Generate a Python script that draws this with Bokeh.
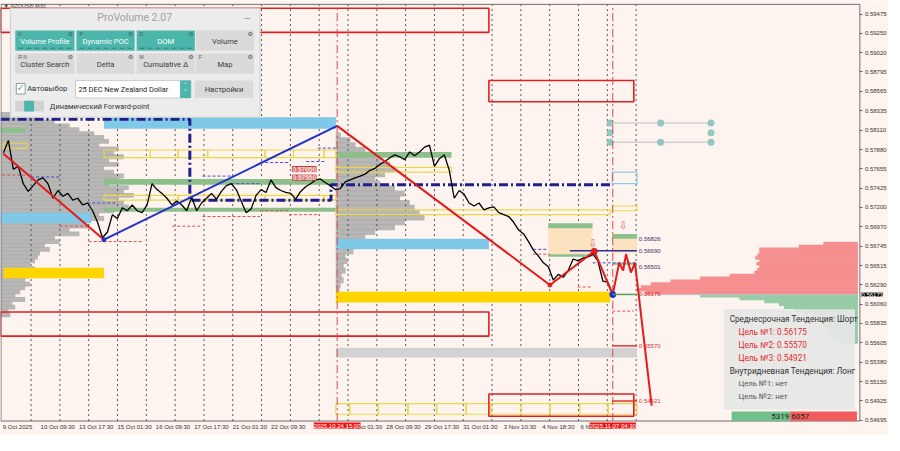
import numpy as np
from bokeh.plotting import figure
from bokeh.models import Range1d, FixedTicker, Label, PrintfTickFormatter, CustomJSTickFormatter
from bokeh.embed import file_html
from bokeh.resources import INLINE
from bokeh.core.properties import value

# ---------------- chart data ----------------
symbol = "NZDUSD,M30"
instrument = "25 DEC New Zealand Dollar"
closes = [
    0.57841, 0.57988, 0.57648, 0.57682, 0.57478, 0.57387, 0.57455, 0.57523, 0.57546, 0.57478,
    0.57307, 0.57398, 0.57330, 0.57364, 0.57285, 0.57307, 0.57228, 0.57251, 0.57160, 0.57024,
    0.56842, 0.56910, 0.57114, 0.57069, 0.57194, 0.57160, 0.57228, 0.57160, 0.57137, 0.57228,
    0.57478, 0.57409, 0.57364, 0.57307, 0.57228, 0.57273, 0.57228, 0.57160, 0.57319, 0.57160,
    0.57251, 0.57307, 0.57364, 0.57296, 0.57387, 0.57455, 0.57478, 0.57409, 0.57273, 0.57137,
    0.57182, 0.57341, 0.57409, 0.57375, 0.57523, 0.57432, 0.57398, 0.57375, 0.57364, 0.57296,
    0.57387, 0.57443, 0.57478, 0.57523, 0.57534, 0.57489, 0.57455, 0.57409, 0.57421, 0.57500,
    0.57523, 0.57546, 0.57568, 0.57591, 0.57636, 0.57659, 0.57705, 0.57739, 0.57784, 0.57818,
    0.57795, 0.57761, 0.57852, 0.57807, 0.57852, 0.57909, 0.57932, 0.57682, 0.57773, 0.57818,
    0.57636, 0.57307, 0.57398, 0.57353, 0.57251, 0.57216, 0.57251, 0.57171, 0.57194, 0.57205,
    0.57137, 0.57114, 0.57092, 0.57024, 0.56933, 0.56887, 0.56797, 0.56694, 0.56626, 0.56547,
    0.56501, 0.56343, 0.56411, 0.56377, 0.56456, 0.56592, 0.56570, 0.56604, 0.56615, 0.56649,
    0.56570, 0.56331, 0.56320, 0.56173]
first_bar_day, last_bar_day = 0.04, 21.19      # trading days since 9 Oct 2025 00:00
current_price = 0.56173

zz_days = [0.04, 3.53, 11.625, 19.01, 20.55, 21.19]
zz_prices = [0.57830, 0.56819, 0.58159, 0.56286, 0.56683, 0.56173]
zz_colors = ["#E41B1B", "#1F2FD0", "#E41B1B", "#E41B1B", "#E41B1B"]
fc_days = [21.19, 21.41, 21.55, 21.65, 21.82, 21.96, 22.54]
fc_prices = [0.56173, 0.56547, 0.56456, 0.56649, 0.56433, 0.56547, 0.54867]

price_ticks = [0.59475, 0.59250, 0.59020, 0.58795, 0.58565, 0.58335, 0.58110, 0.57880,
               0.57655, 0.57425, 0.57200, 0.56970, 0.56745, 0.56515, 0.56290, 0.56060,
               0.55835, 0.55605, 0.55380, 0.55150, 0.54925, 0.54695]
time_ticks = [0.0, 1.396, 2.729, 4.0625, 5.396, 6.729, 8.0625, 9.396, 12.0625, 13.396,
              14.729, 16.0625, 17.4375, 18.771, 20.104]
time_labels = ["9 Oct 2025", "10 Oct 09:30", "13 Oct 17:30", "15 Oct 01:30", "16 Oct 09:30",
               "17 Oct 17:30", "21 Oct 01:30", "22 Oct 09:30", "27 Oct 01:30", "28 Oct 09:30",
               "29 Oct 17:30", "31 Oct 01:30", "3 Nov 10:30", "4 Nov 18:30", "6 Nov 02:30"]
marker_days = [11.625, 21.19]
marker_labels = ["2025.10.24 15:00", "2025.11.07 04:30"]
day_lines = list(range(1, 23))

# zones: left day, right day, top price, bottom price
sky_x0 = [3.53, -0.06, 11.58]
sky_x1 = [11.58, 3.09, 16.89]
sky_top = [0.58261, 0.57137, 0.56831]
sky_bot = [0.58124, 0.57012, 0.56706]
gold_x0 = [0.04, 11.58]
gold_x1 = [3.53, 21.10]
gold_top = [0.56490, 0.56206]
gold_bot = [0.56365, 0.56081]
gray_x0, gray_x1, gray_top, gray_bot = [11.58], [22.03], [0.55548], [0.55434]
green_x0 = [3.53, 3.53, 11.58, 18.95, 18.95, 21.17, 21.17, -0.06]
green_x1 = [11.58, 11.58, 15.59, 20.49, 20.49, 22.03, 22.03, 0.80]
green_top = [0.57534, 0.57194, 0.57852, 0.57012, 0.56649, 0.56887, 0.56547, 0.58136]
green_bot = [0.57466, 0.57148, 0.57784, 0.56955, 0.56620, 0.56831, 0.56524, 0.58079]
beige_x0, beige_x1 = [18.95, 21.17], [20.49, 22.03]
beige_top, beige_bot = [0.56955, 0.56831], [0.56649, 0.56660]
red_x0 = [-0.06, 16.89, -0.06, 16.89]
red_x1 = [16.89, 21.92, 16.89, 21.92]
red_top = [0.59543, 0.58692, 0.55968, 0.55003]
red_bot = [0.59259, 0.58442, 0.55684, 0.54742]
yel_row_edges = [3.53, 5.14, 6.10, 7.13, 9.12, 10.11, 11.17, 11.58]
yel_rows = [(0.57875, 0.57784), (0.57341, 0.57285)]
yel_low_edges = [11.58, 12.06, 13.05, 14.08, 15.08, 16.10, 16.96, 18.02, 19.01, 20.04, 21.03, 22.03]
yel_low = (0.54890, 0.54765)
yel_x0 = [0.04, 11.58, 11.58, 21.17]
yel_x1 = [0.86, 15.59, 21.10, 22.03]
yel_top = [0.57954, 0.57670, 0.57171, 0.57216]
yel_bot = [0.57897, 0.57614, 0.57114, 0.57160]
poc_days = [-0.06, 6.51, 6.51, 11.41, 11.41, 21.10]
poc_prices = [0.58238, 0.58238, 0.57284, 0.57284, 0.57466, 0.57466]
red_dash = [(0.0, 0.9, 0.57580), (2.0, 3.0, 0.56978), (3.0, 4.9, 0.56797), (5.9, 6.9, 0.56978),
            (6.95, 8.95, 0.57092), (8.95, 9.95, 0.57160), (9.95, 11.0, 0.57114),
            (18.43, 19.0, 0.56649), (19.97, 20.49, 0.56263), (21.17, 21.92, 0.55979)]
blue_dash = [(1.0, 2.0, 0.57557), (2.95, 3.95, 0.57251), (6.95, 7.95, 0.57568), (7.95, 8.95, 0.57478),
             (8.95, 9.95, 0.57727), (10.55, 11.24, 0.57739), (10.95, 11.6, 0.57897),
             (18.43, 18.9, 0.56706), (20.49, 22.03, 0.56547)]
fp_days = [21.10, 22.85, 24.60]
fp_prices = [0.58192, 0.58079, 0.57966]
level_labels = [0.56826, 0.56690, 0.56501]
targets_mid = [0.56175, 0.55570, 0.54921]
box_labels = [0.57650, 0.57550]
arrow_days, arrow_prices = [20.50, 21.55], [0.56774, 0.56989]

left_prof_vol = [20, 40, 55, 70, 80, 95, 105, 110, 100, 120, 115, 125, 110, 120, 105, 115, 125, 120,
                 110, 130, 125, 135, 120, 125, 130, 115, 100, 105, 85, 90, 70, 80, 55, 60, 45, 50,
                 40, 38, 35, 30, 35, 30, 28, 25, 30, 25, 20, 15, 25, 12, 15, 8, 10]
left_prof_range = (0.58295, 0.55934)
mid_prof_vol = [5, 15, 20, 30, 35, 45, 55, 60, 50, 40, 45, 60, 70, 65, 75, 80, 85, 90, 70, 60, 40,
                30, 20, 15, 18, 10, 12, 8, 10, 6, 8, 5, 4]
mid_prof_range = (0.58045, 0.56229)
right_prof_vol = [35, 60, 100, 100, 102, 104, 100, 103, 100, 102, 105, 130, 160, 190, 210, 220, 224,
                  215, 160, 120, 95, 80, 75, 65, 55, 45, 40, 38, 35, 33, 32, 30, 28, 25, 20]
right_prof_range = (0.56774, 0.55616)
buy_volume, sell_volume = 5319, 6057

# ---------------- helpers (reference pixel -> data, for decorations) ----------------
def X(px):
    return (px - 1.8) / 29.2

def Y(py):
    return 0.59634 - py * 0.0001135

BG = "#FDF4EF"
W, H = 888, 435
# the frame spans the whole canvas; axes are pinned inside it with fixed_location
p = figure(width=W, height=H, x_range=Range1d(X(0), X(900)), y_range=Range1d(Y(451), Y(0)),
           output_backend="svg", toolbar_location=None, y_axis_location="right",
           background_fill_color=BG, border_fill_color=BG,
           min_border_left=0, min_border_top=0, min_border_right=0, min_border_bottom=0)
p.xgrid.visible = False
p.ygrid.visible = False
p.outline_line_color = None

x_frame_end = X(871)
y_frame_bot, y_frame_top = Y(436), Y(4)

ya = p.yaxis[0]
ya.fixed_location = x_frame_end
ya.ticker = FixedTicker(ticks=price_ticks)
ya.formatter = PrintfTickFormatter(format="%.5f")
ya.major_label_text_font = "Liberation Sans"
ya.major_label_text_font_size = "6px"
ya.major_label_text_color = "#333333"
ya.axis_line_color = None
ya.major_tick_line_color = "#666666"
ya.major_tick_out = 3
ya.major_tick_in = 0
ya.minor_tick_out = 0
ya.minor_tick_in = 0
ya.major_label_standoff = 2

xa = p.xaxis[0]
xa.fixed_location = y_frame_bot
label_center_shift = 0.53
xa.ticker = FixedTicker(ticks=[round(t + label_center_shift, 4) for t in time_ticks])
xa.formatter = CustomJSTickFormatter(args=dict(labels=time_labels), code="return labels[index] || '';")
xa.major_label_text_font = "Liberation Sans"
xa.major_label_text_font_size = "6px"
xa.major_label_text_color = "#333333"
xa.axis_line_color = None
xa.major_tick_out = 0
xa.major_tick_in = 0
xa.minor_tick_out = 0
xa.minor_tick_in = 0
xa.major_label_standoff = 3

# ---------------- volume profiles ----------------
lv = np.linspace(left_prof_range[0], left_prof_range[1], len(left_prof_vol))
lh = abs(lv[1] - lv[0]) * 1.25
x_left = X(0)
p.hbar(y=lv, left=x_left, right=[x_left + v / 29.2 for v in left_prof_vol], height=lh,
       fill_color="#ABABAB", line_color=None, fill_alpha=0.85)
mv = np.linspace(mid_prof_range[0], mid_prof_range[1], len(mid_prof_vol))
mh = abs(mv[1] - mv[0]) * 1.25
p.hbar(y=mv, left=marker_days[0] - 0.05, right=[marker_days[0] - 0.05 + v / 29.2 for v in mid_prof_vol],
       height=mh, fill_color="#ABABAB", line_color=None, fill_alpha=0.85)
rv = np.linspace(right_prof_range[0], right_prof_range[1], len(right_prof_vol))
rh = abs(rv[1] - rv[0]) * 1.2
x_right = X(869)
rcol = ["#F58A8A" if lvl > current_price else "#92C9A3" for lvl in rv]
p.hbar(y=rv, right=x_right, left=[x_right - v / 29.2 for v in right_prof_vol], height=rh,
       fill_color=rcol, line_color=None, fill_alpha=0.95)
p.segment(x0=[X(645)], x1=[x_right], y0=[current_price], y1=[current_price], color="#C0C0C0", line_width=1)

# ---------------- day separators ----------------
p.segment(x0=day_lines, x1=day_lines, y0=y_frame_bot, y1=y_frame_top, color="#555555", line_width=1,
          line_dash="2 3")

# ---------------- zones ----------------
p.quad(left=sky_x0, right=sky_x1, top=sky_top, bottom=sky_bot, fill_color="#80C8E8", line_color=None)
p.quad(left=gold_x0, right=gold_x1, top=gold_top, bottom=gold_bot, fill_color="#FFD500", line_color=None)
p.quad(left=gray_x0, right=gray_x1, top=gray_top, bottom=gray_bot, fill_color="#D2D2D2", line_color=None)
p.quad(left=beige_x0, right=beige_x1, top=beige_top, bottom=beige_bot, fill_color="#FBE3C0", line_color=None)
p.quad(left=green_x0, right=green_x1, top=green_top, bottom=green_bot, fill_color="#8DBF8B", line_color=None)

yl, yr, yt, yb = [], [], [], []
for top, bot in yel_rows:
    for a, b in zip(yel_row_edges[:-1], yel_row_edges[1:]):
        yl.append(a); yr.append(b); yt.append(top); yb.append(bot)
for a, b in zip(yel_low_edges[:-1], yel_low_edges[1:]):
    yl.append(a); yr.append(b); yt.append(yel_low[0]); yb.append(yel_low[1])
yl += yel_x0; yr += yel_x1; yt += yel_top; yb += yel_bot
p.quad(left=yl, right=yr, top=yt, bottom=yb, fill_color=None, line_color="#EBD84A", line_width=1.2)
p.quad(left=[21.17], right=[22.03], top=[0.57614], bottom=[0.57478], fill_color=None,
       line_color="#8EC9E8", line_width=1.2)
p.quad(left=red_x0, right=red_x1, top=red_top, bottom=red_bot, fill_color=None, line_color="#E02020",
       line_width=1.6)

for (a, b, lvl) in red_dash:
    p.segment(x0=[a], x1=[b], y0=[lvl], y1=[lvl], color="#E05050", line_width=1, line_dash="3 2")
for (a, b, lvl) in blue_dash:
    p.segment(x0=[a], x1=[b], y0=[lvl], y1=[lvl], color="#4646D0", line_width=1, line_dash="3 2")

# dynamic POC
p.line(poc_days, poc_prices, color="#1E1E8C", line_width=3, line_dash="9 3 2 3")
p.segment(x0=[19.70], x1=[22.03], y0=[level_labels[1]], y1=[level_labels[1]], color="#2A2A9A", line_width=1.5)

# forward points
p.segment(x0=[fp_days[0]] * 2, x1=[fp_days[-1]] * 2, y0=[fp_prices[0], fp_prices[2]],
          y1=[fp_prices[0], fp_prices[2]], color="#D0D0D0", line_width=1.5)
fx = [fp_days[0], fp_days[1], fp_days[2], fp_days[0], fp_days[2], fp_days[0], fp_days[1], fp_days[2]]
fy = [fp_prices[0]] * 3 + [fp_prices[1]] * 2 + [fp_prices[2]] * 3
p.scatter(fx, fy, size=7, color="#93C7C0", line_color=None)

# event verticals
p.segment(x0=marker_days, x1=marker_days, y0=y_frame_bot, y1=y_frame_top, color="#E04848", line_width=1,
          line_dash="8 3 2 3")

# ---------------- price + zigzag ----------------
t = np.linspace(first_bar_day, last_bar_day, len(closes))
p.line(t, closes, color="black", line_width=1.3)
p.segment(x0=zz_days[:-1], y0=zz_prices[:-1], x1=zz_days[1:], y1=zz_prices[1:], color=zz_colors, line_width=2)
p.line(fc_days, fc_prices, color="#E41B1B", line_width=2)
p.scatter([zz_days[4]], [zz_prices[4]], size=6, color="#E41B1B")
p.scatter([zz_days[3]], [zz_prices[3]], size=4, color="#E41B1B")
p.scatter([zz_days[1]], [zz_prices[1]], size=4, color="#1F2FD0")
p.scatter([zz_days[5]], [zz_prices[5]], size=6, color="#1F2FD0")

# target / level lines
p.segment(x0=[21.19], x1=[22.03], y0=[targets_mid[0]], y1=[targets_mid[0]], color="#5B9E5B", line_width=1.5)
p.segment(x0=[21.17] * 2, x1=[22.03] * 2, y0=targets_mid[1:], y1=targets_mid[1:], color="#E03030", line_width=1.5)
p.text(x=[X(647)] * 3, y=level_labels, text=[f"{v:.5f}" for v in level_labels],
       text_font=value("Liberation Sans"), text_font_size=value("6px"), text_color="#333366",
       text_baseline="middle")
p.text(x=[X(647)] * 3, y=targets_mid, text=[f"{v:.5f}" for v in targets_mid],
       text_font=value("Liberation Sans"), text_font_size=value("6px"), text_color="#E03030",
       text_baseline="middle")
p.text(x=arrow_days, y=arrow_prices, text=["⇩"] * 2, text_font=value("DejaVu Sans"),
       text_font_size=value("11px"), text_color="#E86A6A", text_align="center", text_baseline="middle")

for v in box_labels:
    p.add_layout(Label(x=X(296), y=v, text=f"{v:.5f}", text_font="Liberation Sans", text_font_size="6.5px",
                       text_color="white", background_fill_color="#E07C7C", border_line_color="#C03030",
                       text_baseline="middle"))

# chart border (frame of the trading window)
p.quad(left=[X(0.5)], right=[x_frame_end], top=[y_frame_top], bottom=[y_frame_bot], fill_color=None,
       line_color="#707070", line_width=1)

# ---------------- ProVolume panel ----------------
UI_FONT = "Roboto"

def ui_box(x0, x1, y0, y1, fill, line=None, alpha=1.0, lw=1):
    p.quad(left=[X(x0)], right=[X(x1)], top=[Y(y0)], bottom=[Y(y1)], fill_color=fill, fill_alpha=alpha,
           line_color=line, line_width=lw)

def ui_text(x, y, s, size, color, align="left", font=UI_FONT):
    p.text(x=[X(x)], y=[Y(y)], text=[s], text_font=value(font), text_font_size=value(f"{size}px"),
           text_color=color, text_align=align, text_baseline="middle")

ui_text(3, 6, "▼ " + symbol, 5.5, "#333333", font="Liberation Sans")
ui_box(10, 263, 8, 121, "#ECECEC", "#CFCFCF")
ui_text(136, 18, "ProVolume 2.07", 10.5, "#A2A2A2", "center")
ui_text(250, 19, "—", 9, "#8A8A8A", "center")
TEAL = "#4DB6AC"
cols = [(15, 75), (77, 136), (138, 197), (198, 257)]
rows = [(31, 52), (55, 76)]
names = [["Volume Profile", "Dynamic POC", "DOM", "Volume"],
         ["Cluster Search", "Delta", "Cumulative Δ", "Map"]]
keys = [["V", "P", "D", ""], ["R  N", "", "M", "F"]]
for r, (y0, y1) in enumerate(rows):
    for c, (x0, x1) in enumerate(cols):
        teal = (r == 0 and c < 3)
        ui_box(x0, x1, y0, y1, TEAL if teal else "#DADADA", None)
        ui_text((x0 + x1) / 2, (y0 + y1) / 2 + 0.5, names[r][c], 7.6, "white" if teal else "#3A3A3A", "center")
        ui_text(x1 - 4, y0 + 3.5, "⚙", 6, "#555555" if not teal else "#2E6F66", "center", font="DejaVu Sans")
        if keys[r][c]:
            ui_text(x0 + 3, y0 + 3.5, keys[r][c], 5, "#555555", font="Liberation Sans")
        if teal:
            p.segment(x0=[X(x0 + 3)], x1=[X(x1 - 3)], y0=[Y(y1 - 2.5)], y1=[Y(y1 - 2.5)],
                      color="#2E7D6B", line_width=1, line_dash="5 3")
ui_box(16, 25, 86, 97, "white", "#9A9A9A")
ui_text(20.5, 90.5, "✓", 10, TEAL, "center", font="DejaVu Sans")
ui_text(27, 91, "Автовыбор", 7.6, "#333333")
ui_box(76, 193, 83, 101, "white", "#CCCCCC")
ui_box(182, 193, 83, 101, TEAL, None)
ui_text(187.5, 88.5, "˄", 7, "white", "center", font="DejaVu Sans")
ui_text(187.5, 96, "˅", 7, "white", "center", font="DejaVu Sans")
ui_text(79, 92, instrument, 7.4, "#222222")
ui_box(197, 256, 83, 101, "#DADADA", None)
ui_text(226.5, 92, "Настройки", 7.6, "#333333", "center")
ui_box(15, 44, 104, 115, "#D3D3D3", None)
ui_box(24, 34, 104, 115, TEAL, None)
ui_text(50, 109.5, "Динамический Forward-point", 7.4, "#333333")

# ---------------- tendency box ----------------
ui_box(733, 866, 320, 424, "#E6E6E6", None, alpha=0.93)
ui_text(739, 330, "Среднесрочная Тенденция: Шорт", 8.2, "#333333")
for i, tg in enumerate(targets_mid):
    ui_text(748, 343.5 + 13.5 * i, f"Цель №{i + 1}: {tg:.5f}", 8.2, "#E02A2A")
ui_text(739, 384, "Внутридневная Тенденция: Лонг", 8.2, "#333333")
ui_text(748, 397.5, "Цель №1: нет", 7.8, "#555555")
ui_text(748, 411, "Цель №2: нет", 7.8, "#555555")
total = buy_volume + sell_volume
split_px = 741 + 127 * buy_volume / total
ui_box(741, split_px, 426, 436, "#6FC08B", None)
ui_box(split_px, 868, 426, 436, "#F25C5C", None)
ui_text(split_px - 1, 431, str(buy_volume), 8, "#222222", "right")
ui_text(split_px + 1, 431, str(sell_volume), 8, "#222222", "left")

# ---------------- axis markers ----------------
for d, s in zip(marker_days, marker_labels):
    p.add_layout(Label(x=d, y=y_frame_bot, y_offset=-1.5, text=s, text_align="center",
                       text_baseline="top", text_font="Liberation Sans", text_font_size="6px",
                       text_color="white", background_fill_color="#F01010"))
p.add_layout(Label(x=x_frame_end, y=current_price, x_offset=1.5, text=f"{current_price:.5f}",
                   text_align="left", text_baseline="middle", text_font="Liberation Sans",
                   text_font_size="6px", text_color="white", background_fill_color="black"))

open("out.html", "w").write(file_html(p, INLINE))
